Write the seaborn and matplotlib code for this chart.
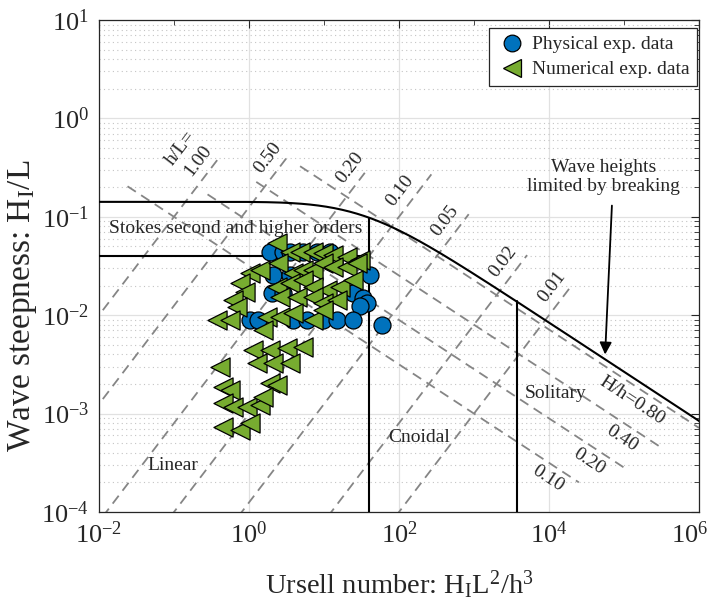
import numpy as np
import pandas as pd
import matplotlib
matplotlib.use("Agg")
import matplotlib.pyplot as plt
import matplotlib.transforms as mtransforms
import seaborn as sns
from matplotlib.lines import Line2D
from matplotlib.ticker import LogLocator, FixedLocator, NullFormatter, LogFormatterSciNotation

# ---------------- data ----------------
phys_ur = [1.9, 2.84, 3.52, 5.25, 8.1, 12.0,
           2.09, 3.52, 41.0,
           2.0, 2.84, 24.4, 33.0,
           37.0, 30.0,
           1.03, 1.3, 3.86, 5.9, 9.7, 14.9, 24.4,
           59.0]
phys_steep = [0.044, 0.044, 0.044, 0.044, 0.044, 0.044,
              0.0256, 0.0256, 0.0256,
              0.0168, 0.0168, 0.0168, 0.015,
              0.0133, 0.0125,
              0.0089, 0.0089, 0.0089, 0.0089, 0.0089, 0.0089, 0.0089,
              0.0079]

num_ur = [2.36, 3.52, 4.79, 7.13, 9.7, 13.2, 20.3, 30.2,
          1.03, 1.40, 2.44, 3.86, 5.25, 7.13, 9.7, 13.2, 20.3, 27.5,
          0.76, 0.885, 2.36, 3.52, 5.25, 7.13, 11.0, 16.3, 24.4,
          0.61, 0.69, 2.59, 4.37, 7.13, 9.7, 14.9,
          0.374, 0.56, 1.74, 2.59, 3.86, 7.13, 9.7, 1.54,
          1.13, 1.9, 3.21, 5.25,
          1.28, 2.09, 3.52, 0.41,
          0.45, 0.56, 1.9, 2.36,
          0.45, 0.61, 0.94, 1.40, 1.54,
          0.45, 0.76, 1.03]
num_steep = [0.0542, 0.0438, 0.0438, 0.0438, 0.0428, 0.0409, 0.039, 0.0364,
             0.0269, 0.0288, 0.0339, 0.0269, 0.0288, 0.0288, 0.0339, 0.0309, 0.0309, 0.0339,
             0.0212, 0.0172, 0.0194, 0.0212, 0.0228, 0.0194, 0.018, 0.0194, 0.0228,
             0.0143, 0.0121, 0.0153, 0.0153, 0.0153, 0.0133, 0.0143,
             0.0089, 0.0089, 0.0096, 0.0096, 0.0105, 0.0089, 0.0113, 0.0071,
             0.00443, 0.00443, 0.00465, 0.00475,
             0.00327, 0.00327, 0.00327, 0.00298,
             0.00186, 0.00174, 0.00205, 0.00195,
             0.00128, 0.00117, 0.00117, 0.00122, 0.00148,
             0.00073, 0.00068, 0.0008]

# relative depth lines h/L (steepness = Ur * (h/L)^3), upper end in Ur
hl_values = [1.00, 0.50, 0.20, 0.10, 0.05, 0.02, 0.01]
hl_text = ["1.00", "0.50", "0.20", "0.10", "0.05", "0.02", "0.01"]
hl_ur_end = [0.41, 3.5, 35.0, 270.0, 850.0, 5100.0, 20400.0]
hl_ur_label = [0.30, 2.6, 32.0, 150.0, 590.0, 3500.0, 15800.0]

# relative height lines H/h (steepness = sqrt((H/h)^3 / Ur)), Ur range
hh_values = [0.80, 0.40, 0.20, 0.10]
hh_text = ["H/h=0.80", "0.40", "0.20", "0.10"]
hh_ur_start = [4.8, 1.25, 0.28, 0.024]
hh_ur_end = [1.0e6, 3.2e5, 1.1e5, 2.5e4]
hh_ur_label = [1.6e5, 1.2e5, 4.3e4, 1.23e4]

# theory boundaries
breaking_coef = 0.142
stokes_steep = 0.04
stokes_ur = 40.0
solitary_ur = 3700.0

# ---------------- style ----------------
sns.set_theme(style="white")
plt.rcParams["font.family"] = ["Liberation Serif", "DejaVu Serif"]
plt.rcParams["mathtext.fontset"] = "custom"
plt.rcParams["mathtext.rm"] = "Liberation Serif"
plt.rcParams["mathtext.it"] = "Liberation Serif:italic"
plt.rcParams["mathtext.bf"] = "Liberation Serif:bold"

fig = plt.figure(figsize=(7.14, 6.06), dpi=100)
ax = fig.add_axes([99 / 714, 1 - 512 / 606, 600 / 714, 492 / 606])
ax.set_xscale("log")
ax.set_yscale("log")
ax.set_xlim(1e-2, 1e6)
ax.set_ylim(1e-4, 1e1)

blue = "#0072BD"
green = "#77AC30"
dash_col = "#858585"
dash = (5.5, 3.5)

# breaking limit H/L = 0.142 tanh(kh)
rel_depth = np.logspace(-3.6, 1.2, 600)
brk_s = breaking_coef * np.tanh(2 * np.pi * rel_depth)
brk_ur = brk_s / rel_depth ** 3
order = np.argsort(brk_ur)
brk_ur, brk_s = brk_ur[order], brk_s[order]
ax.plot(brk_ur, brk_s, color="black", lw=1.5, zorder=3)


def breaking_at(ur):
    return 10 ** np.interp(np.log10(ur), np.log10(brk_ur), np.log10(brk_s))


ax.plot([1e-2, stokes_ur], [stokes_steep, stokes_steep], color="black", lw=1.5, zorder=3)
for ur in (stokes_ur, solitary_ur):
    ax.plot([ur, ur], [1e-4, breaking_at(ur)], color="black", lw=1.5, zorder=3)

fig.canvas.draw()


def screen_angle(x0, y0, x1, y1):
    p0 = ax.transData.transform((x0, y0))
    p1 = ax.transData.transform((x1, y1))
    return np.degrees(np.arctan2(p1[1] - p0[1], p1[0] - p0[0]))


ang_hl = screen_angle(1, 1, 10, 10)
ang_hh = screen_angle(1, 1, 100, 0.1)

lab_size = 14
for d, txt, ue, ul in zip(hl_values, hl_text, hl_ur_end, hl_ur_label):
    ur = np.logspace(-3, np.log10(ue), 200)
    ax.plot(ur, ur * d ** 3, color=dash_col, lw=1.3, dashes=dash, zorder=2)
    a = np.radians(ang_hl)
    off = 15 * 0.72
    ax.annotate(txt, (ul, ul * d ** 3), xytext=(-np.sin(a) * off, np.cos(a) * off),
                textcoords="offset points", rotation=ang_hl, rotation_mode="anchor",
                ha="center", va="center", fontsize=lab_size, zorder=4)
    if txt == "1.00":
        off2 = 36 * 0.72
        ax.annotate("h/L=", (ul, ul * d ** 3), xytext=(-np.sin(a) * off2, np.cos(a) * off2),
                    textcoords="offset points", rotation=ang_hl, rotation_mode="anchor",
                    ha="center", va="center", fontsize=lab_size, zorder=4)

for r, txt, us, ue, ul in zip(hh_values, hh_text, hh_ur_start, hh_ur_end, hh_ur_label):
    ur = np.logspace(np.log10(us), np.log10(ue), 200)
    ax.plot(ur, np.sqrt(r ** 3 / ur), color=dash_col, lw=1.3, dashes=dash, zorder=2)
    a = np.radians(ang_hh)
    off = 14 * 0.72
    ax.annotate(txt, (ul, np.sqrt(r ** 3 / ul)), xytext=(np.sin(a) * off, -np.cos(a) * off),
                textcoords="offset points", rotation=ang_hh, rotation_mode="anchor",
                ha="center", va="center", fontsize=lab_size, zorder=4)

# measurements
phys = pd.DataFrame({"ur": phys_ur, "steep": phys_steep})
num = pd.DataFrame({"ur": num_ur, "steep": num_steep})
sns.scatterplot(data=phys, x="ur", y="steep", ax=ax, marker="o", s=150,
                color=blue, edgecolor="black", linewidth=0.9, zorder=5, legend=False)
sns.scatterplot(data=num, x="ur", y="steep", ax=ax, marker="<", s=190,
                color=green, edgecolor="black", linewidth=0.9, zorder=6, legend=False)

# region names
ax.text(0.67, 0.0769, "Stokes second and higher orders", fontsize=lab_size,
        ha="center", va="center", zorder=4)
ax.text(0.097, 3.0e-4, "Linear", fontsize=lab_size, ha="center", va="center", zorder=4)
ax.text(185, 5.65e-4, "Cnoidal", fontsize=lab_size, ha="center", va="center", zorder=4)
ax.text(1.24e4, 1.59e-3, "Solitary", fontsize=lab_size, ha="center", va="center", zorder=4)
ax.text(5.4e4, 0.254, "Wave heights\nlimited by breaking", fontsize=lab_size,
        ha="center", va="center", linespacing=1.1, zorder=4)
tip_ur = 5.6e4
ax.annotate("", xy=(tip_ur, breaking_at(tip_ur) * 1.12), xytext=(6.9e4, 0.13),
            arrowprops=dict(arrowstyle="-|>", color="black", lw=1.3,
                            mutation_scale=18, shrinkA=0, shrinkB=0), zorder=4)

# axes formatting
ax.set_xlabel(r"Ursell number: H$_\mathregular{I}$L$^\mathregular{2}$/h$^\mathregular{3}$",
              fontsize=20.5)
ax.set_ylabel(r"Wave steepness: H$_\mathregular{I}$/L", fontsize=24)
ax.xaxis.set_label_coords(0.5, -0.115)
ax.yaxis.set_label_coords(-0.1, 0.42)
ax.xaxis.set_major_locator(FixedLocator([1e-2, 1e0, 1e2, 1e4, 1e6]))
ax.xaxis.set_minor_locator(FixedLocator([1e-1, 1e1, 1e3, 1e5]))
ax.xaxis.set_major_formatter(LogFormatterSciNotation())
ax.xaxis.set_minor_formatter(NullFormatter())
ax.yaxis.set_major_locator(LogLocator(base=10, numticks=20))
ax.yaxis.set_minor_locator(LogLocator(base=10, subs=np.arange(2, 10), numticks=20))
ax.yaxis.set_minor_formatter(NullFormatter())
ax.tick_params(which="both", direction="in", top=True, right=True, colors="#262626",
               labelcolor="#262626")
ax.tick_params(which="major", length=6, width=0.8, labelsize=19, pad=7)
ax.tick_params(which="minor", length=3.5, width=0.6)

ax.set_axisbelow(True)
ax.grid(which="major", color="#e1e1e1", lw=0.9, ls="-")
ax.yaxis.grid(which="minor", color="#c4c4c4", lw=0.8, ls=(0, (1, 3)))
for sp in ax.spines.values():
    sp.set_color("#262626")
    sp.set_linewidth(0.9)

# keep the last x tick label inside the figure
fig.canvas.draw()
last = ax.get_xticklabels()[-1]
last.set_transform(last.get_transform() +
                   mtransforms.ScaledTranslation(-9 / 100, 0, fig.dpi_scale_trans))

handles = [
    Line2D([], [], marker="o", ls="", markersize=12, markerfacecolor=blue,
           markeredgecolor="black", markeredgewidth=0.9, label="Physical exp. data"),
    Line2D([], [], marker="<", ls="", markersize=13, markerfacecolor=green,
           markeredgecolor="black", markeredgewidth=0.9, label="Numerical exp. data"),
]
leg = ax.legend(handles=handles, loc="upper right",
                bbox_to_anchor=((697 - 99) / 600, (512 - 28) / 492),
                fontsize=14, frameon=True, fancybox=False, framealpha=1,
                edgecolor="#262626", borderaxespad=0.0, handletextpad=0.2,
                borderpad=0.4, labelspacing=0.38, handlelength=1.6)
leg.get_frame().set_linewidth(0.9)
leg.set_zorder(10)

fig.savefig("out.png", dpi=100)
